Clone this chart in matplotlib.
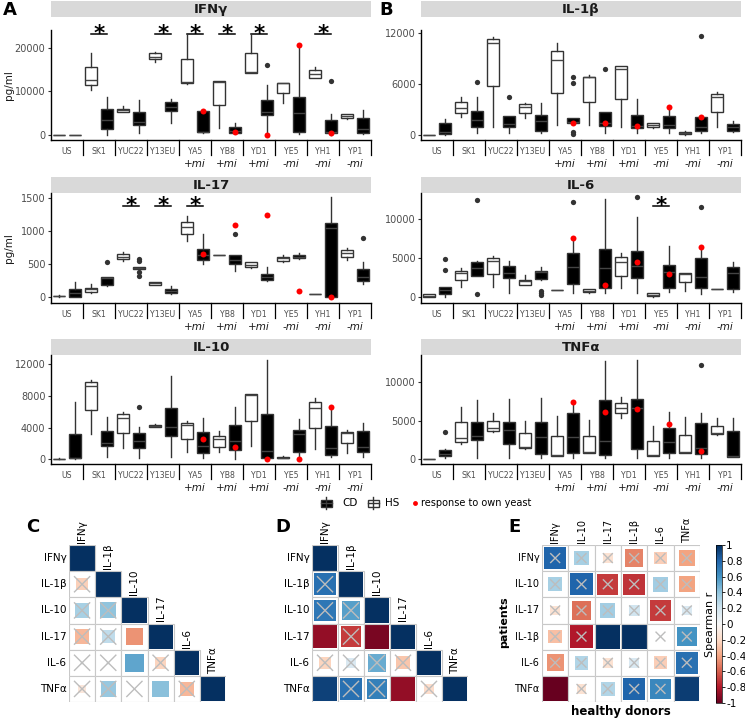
import matplotlib
matplotlib.use('Agg')
import matplotlib.pyplot as plt
import numpy as np
from matplotlib.patches import Rectangle
from matplotlib.colors import Normalize
from matplotlib.cm import ScalarMappable

plt.rcParams['font.family'] = ['DejaVu Sans']

# ---------------- data ----------------
cats = ['US', 'SK1', 'YUC22', 'Y13EU', 'YA5', 'YB8', 'YD1', 'YE5', 'YH1', 'YP1']
mi_tags = ['', '', '', '', '+mi', '+mi', '+mi', '-mi', '-mi', '-mi']

# box stats per category: (whisker low, q1, median, q3, whisker high)
ifng_hs = [(0, 0, 0, 0, 0), (10300, 11400, 12600, 15600, 18700), (5200, 5300, 5700, 6000, 6600),
           (16600, 17500, 17900, 18800, 18900), (11700, 11900, 12200, 17400, 22900),
           (1700, 6800, 12200, 12400, 12400), (14300, 14300, 14400, 18700, 22900),
           (7400, 9500, 11900, 12000, 12000), (13100, 13100, 14000, 14900, 15600),
           (3700, 4000, 4300, 4700, 4700)]
ifng_cd = [(0, 0, 0, 0, 0), (0, 1400, 3400, 5900, 8600), (400, 2400, 3000, 5300, 8000),
           (2700, 5500, 6500, 7600, 8200), (500, 600, 700, 5400, 5500),
           (400, 500, 900, 1800, 2800), (0, 4500, 5200, 8100, 11500),
           (200, 600, 5100, 8800, 20400), (0, 400, 700, 3400, 4700),
           (150, 400, 1300, 3800, 5700)]
ifng_out = [(7, 16100), (9, 12400)]
ifng_own = [np.nan, np.nan, np.nan, np.nan, 5400, 600, 100, 20500, 400, np.nan]
ifng_stars = ['SK1', 'Y13EU', 'YA5', 'YB8', 'YD1', 'YH1']

il1b_hs = [(0, 0, 0, 0, 0), (2100, 2600, 3200, 3900, 4500), (1000, 5800, 10900, 11300, 11600),
           (2000, 2600, 3300, 3600, 3800), (1200, 5000, 8900, 9900, 10900),
           (1200, 3900, 6800, 6900, 7100), (1000, 4300, 7800, 8100, 8200),
           (800, 1000, 1200, 1400, 1400), (0, 100, 200, 400, 500),
           (1000, 2700, 4500, 4800, 5100)]
il1b_cd = [(0, 100, 400, 1400, 1900), (200, 900, 1800, 2800, 4500), (200, 900, 1300, 2200, 2200),
           (200, 500, 1700, 2400, 3800), (1400, 1400, 1500, 2000, 2000),
           (200, 1100, 1400, 2700, 2700), (200, 800, 1100, 2400, 4300),
           (200, 800, 1200, 2200, 3300), (200, 500, 900, 2100, 2100),
           (300, 500, 900, 1300, 1700)]
il1b_out = [(2, 6200), (3, 4500), (5, 6900), (5, 6100), (5, 300), (5, 100), (6, 7800), (9, 11700)]
il1b_own = [np.nan, np.nan, np.nan, np.nan, 1450, 1400, 1050, 3350, 2100, np.nan]
il1b_stars = []

il17_hs = [(10, 15, 20, 25, 30), (70, 85, 125, 145, 195), (555, 575, 615, 650, 680),
           (180, 182, 212, 235, 237), (860, 955, 1060, 1145, 1235),
           (635, 638, 640, 642, 645), (450, 460, 490, 530, 540),
           (530, 550, 590, 615, 640), (45, 48, 50, 52, 55),
           (570, 605, 665, 715, 750)]
il17_cd = [(0, 10, 60, 125, 235), (175, 185, 290, 305, 305), (415, 425, 450, 465, 465),
           (50, 60, 95, 120, 170), (505, 565, 640, 730, 955),
           (405, 505, 565, 640, 640), (245, 265, 315, 355, 455),
           (580, 590, 615, 640, 665), (0, 10, 1050, 1130, 1515),
           (195, 245, 305, 425, 540)]
il17_out = [(2, 530), (3, 575), (3, 545), (3, 390), (3, 320), (6, 955), (10, 895)]
il17_own = [np.nan, np.nan, np.nan, np.nan, 650, 1095, 1250, 100, 10, np.nan]
il17_stars = ['YUC22', 'Y13EU', 'YA5']

il6_hs = [(85, 100, 210, 380, 425), (1360, 2170, 3060, 3400, 3790), (1360, 2940, 4600, 4980, 5280),
          (1570, 1570, 2080, 2260, 2850), (900, 920, 940, 960, 980),
          (510, 640, 850, 1020, 1020), (1150, 2770, 4550, 5190, 5620),
          (85, 170, 300, 510, 600), (850, 1910, 2940, 3060, 3150),
          (1000, 1030, 1060, 1090, 1100)]
il6_cd = [(85, 425, 940, 1360, 1360), (2770, 2770, 3790, 4550, 4680), (510, 2510, 3060, 4040, 4680),
          (2210, 2340, 3190, 3360, 3910), (510, 1660, 3910, 5700, 7530),
          (510, 1230, 3700, 6130, 12550), (510, 2510, 4040, 5960, 10300),
          (640, 1230, 3280, 4130, 6550), (425, 1150, 2640, 5060, 6470),
          (640, 1060, 3150, 3830, 4470)]
il6_out = [(1, 3490), (1, 4890), (2, 12420), (2, 425), (4, 850), (4, 510), (4, 300),
           (5, 12130), (7, 12770), (9, 11570)]
il6_own = [np.nan, np.nan, np.nan, np.nan, 7530, 1570, 4550, 2980, 6470, np.nan]
il6_stars = ['YE5']

il10_hs = [(0, 50, 80, 100, 120), (3160, 6230, 9300, 9730, 10020), (1390, 3280, 5260, 5680, 5940),
           (4040, 4040, 4210, 4340, 4420), (970, 2570, 4340, 4550, 4840),
           (880, 1600, 2530, 2950, 3580), (1680, 4840, 8120, 8210, 8210),
           (126, 126, 210, 340, 420), (1300, 3920, 6530, 7200, 7790),
           (840, 2020, 3370, 3490, 3700)]
il10_cd = [(0, 126, 210, 3240, 7280), (250, 1730, 2100, 3580, 5390), (210, 1470, 2360, 3370, 4130),
           (250, 2950, 4040, 6440, 10520), (210, 840, 1680, 3410, 5180),
           (40, 1180, 2320, 4340, 6650), (0, 210, 1090, 5730, 12550),
           (340, 970, 3160, 3700, 5050), (250, 550, 1470, 4210, 6570),
           (250, 880, 1600, 3580, 4550)]
il10_out = [(3, 6570)]
il10_own = [np.nan, np.nan, np.nan, np.nan, 2570, 1520, 40, 80, 6570, np.nan]
il10_stars = []

tnfa_hs = [(0, 20, 40, 60, 80), (1990, 2300, 2730, 4810, 6840), (3510, 3680, 4030, 5020, 5980),
           (1300, 1430, 1650, 3380, 4980), (476, 476, 563, 3070, 5670),
           (866, 866, 1000, 3030, 5110), (5330, 5980, 6620, 7360, 8140),
           (476, 476, 563, 2420, 4370), (866, 866, 1000, 3160, 5460),
           (3160, 3250, 3460, 4370, 5330)]
tnfa_cd = [(216, 476, 693, 1210, 1340), (130, 2510, 3030, 4890, 7710), (130, 1950, 3810, 4890, 7840),
           (130, 693, 2860, 4810, 7920), (130, 780, 2860, 5980, 7490),
           (130, 563, 2420, 7710, 12770), (130, 1300, 6620, 7840, 12900),
           (130, 780, 2210, 4110, 6100), (130, 650, 1430, 4680, 5980),
           (260, 260, 430, 3720, 5330)]
tnfa_out = [(1, 3590), (9, 12250)]
tnfa_own = [np.nan, np.nan, np.nan, np.nan, 7490, 6100, 6540, 4550, 1080, np.nan]
tnfa_stars = []

# correlation matrices (lower triangles for C and D)
corr_labels = ['IFNγ', 'IL-1β', 'IL-10', 'IL-17', 'IL-6', 'TNFα']
corr_c = [[1.0],
          [-0.24, 1.0],
          [0.33, 0.40, 1.0],
          [-0.33, 0.25, -0.45, 1.0],
          [0.02, 0.02, 0.53, -0.22, 1.0],
          [-0.12, 0.38, 0.01, 0.42, -0.33, 1.0]]
sig_c = [[1], [0, 1], [0, 0, 1], [0, 0, 1, 1], [0, 0, 1, 0, 1], [0, 0, 0, 1, 0, 1]]
corr_d = [[1.0],
          [0.75, 1.0],
          [0.72, 0.55, 1.0],
          [-0.88, -0.70, -0.95, 1.0],
          [-0.22, 0.15, 0.50, -0.28, 1.0],
          [0.93, 0.75, 0.68, -0.88, -0.18, 1.0]]
sig_d = [[1], [0, 1], [0, 0, 1], [1, 0, 1, 1], [0, 0, 0, 0, 1], [1, 0, 0, 1, 0, 1]]

e_labels = ['IFNγ', 'IL-10', 'IL-17', 'IL-1β', 'IL-6', 'TNFα']
corr_e = [[0.80, 0.33, -0.15, -0.50, -0.25, -0.40],
          [0.33, 0.80, -0.70, -0.72, 0.35, -0.40],
          [-0.15, -0.55, 0.35, 0.20, -0.70, 0.15],
          [-0.30, -0.80, 1.0, 1.0, 0.02, 0.60],
          [-0.45, 0.30, -0.15, 0.15, -0.25, 0.75],
          [-1.0, -0.15, 0.30, 0.80, 0.65, 0.95]]
sig_e = [[0, 0, 0, 0, 0, 0],
         [0, 0, 0, 0, 0, 0],
         [0, 0, 0, 0, 0, 0],
         [0, 0, 1, 1, 0, 0],
         [0, 0, 0, 0, 0, 0],
         [1, 0, 0, 0, 0, 1]]

# ---------------- layout ----------------
W, H = 745, 718
fig = plt.figure(figsize=(W / 100, H / 100), dpi=100)
PT = 72 / 100  # points per pixel


def px_axes(x0, y0, x1, y1):
    return fig.add_axes([x0 / W, 1 - y1 / H, (x1 - x0) / W, (y1 - y0) / H])


ov = px_axes(0, 0, W, H)
ov.set_xlim(0, W)
ov.set_ylim(H, 0)
ov.axis('off')

GREY = '#333333'


def box_panel(box, title, strip, hs, cd, out, own, stars, ylim, yticks, star_y, ylabel):
    x0, y0, x1, y1 = box
    hpx = y1 - y0
    ax = px_axes(*box)
    pos = np.arange(1, 11)
    for stats5, off, fill in [(hs, -0.25, 'white'), (cd, 0.25, 'black')]:
        st = []
        for i, (lo, q1, md, q3, hi) in enumerate(stats5):
            fl = [v for (c, v) in out if c == i + 1] if fill == 'black' else []
            st.append(dict(whislo=lo, q1=q1, med=md, q3=q3, whishi=hi, fliers=fl))
        ax.bxp(st, positions=pos + off, widths=0.37, patch_artist=True, showcaps=False,
               manage_ticks=False,
               boxprops=dict(facecolor=fill, edgecolor=GREY, linewidth=1.0),
               medianprops=dict(color='#444444', linewidth=1.0),
               whiskerprops=dict(color=GREY, linewidth=1.0),
               flierprops=dict(marker='o', markerfacecolor=GREY, markeredgecolor='none',
                               markersize=3.8))
    ax.plot(pos + 0.25, own, 'o', color='red', markersize=4.3, markeredgecolor='none',
            zorder=5, clip_on=False)
    for s in stars:
        x = cats.index(s) + 1
        ax.plot([x - 0.25, x + 0.25], [star_y, star_y], color='black', lw=1.1, clip_on=False)
        ax.annotate('*', (x, star_y), xytext=(0, -4.3), textcoords='offset points',
                    ha='center', va='baseline', fontsize=15.5, fontweight='bold',
                    annotation_clip=False)
    ax.set_xlim(0.5, 10.5)
    ax.set_ylim(*ylim)
    ax.set_yticks(yticks)
    ax.set_xticks([])
    ax.spines['top'].set_visible(False)
    ax.spines['right'].set_visible(False)
    for sp in ('left', 'bottom'):
        ax.spines[sp].set_linewidth(1.0)
        ax.spines[sp].set_color('black')
    ax.tick_params(axis='y', labelsize=7, labelcolor='#4D4D4D', color=GREY,
                   length=2.5, width=0.8, pad=1.5)
    ax.patch.set_alpha(0)
    tr = ax.get_xaxis_transform()
    for k in range(1, 11):
        ax.plot([k + 0.5, k + 0.5], [0, -15 / hpx], transform=tr, color='black',
                lw=0.9, clip_on=False)
    for k, (c, m) in enumerate(zip(cats, mi_tags)):
        ax.annotate(c, (k + 1, 0), xycoords=tr, xytext=(0, -11 * PT),
                    textcoords='offset points', ha='center', va='center',
                    fontsize=5.6, color='#4D4D4D', annotation_clip=False)
        if m:
            ax.annotate(m, (k + 1, 0), xycoords=tr, xytext=(0, -24 * PT),
                        textcoords='offset points', ha='center', va='center',
                        fontsize=7.5, style='italic', color='#1A1A1A',
                        annotation_clip=False)
    # strip
    sy0, sy1 = strip
    ov.add_patch(Rectangle((x0, sy0), x1 - x0, sy1 - sy0, facecolor='#D9D9D9',
                           edgecolor='none'))
    ov.text((x0 + x1) / 2, (sy0 + sy1) / 2 + 0.5, title, ha='center', va='center',
            fontsize=9.5, fontweight='bold', color='#1A1A1A')
    if ylabel:
        ov.text(9, (y0 + y1) / 2, 'pg/ml', rotation=90, ha='center', va='center',
                fontsize=7.5, color='#1A1A1A')
    return ax


box_panel((51, 30, 371, 140), 'IFNγ', (1, 17), ifng_hs, ifng_cd, ifng_out, ifng_own,
          ifng_stars, (-1145, 24030), [0, 10000, 20000], 23200, True)
box_panel((421, 30, 741, 140), 'IL-1β', (1, 17), il1b_hs, il1b_cd, il1b_out, il1b_own,
          il1b_stars, (-590, 12390), [0, 6000, 12000], 0, False)
box_panel((51, 192.7, 371, 303.3), 'IL-17', (177, 192.7), il17_hs, il17_cd, il17_out,
          il17_own, il17_stars, (-91, 1585), [0, 500, 1000, 1500], 1389, True)
box_panel((421, 192.7, 741, 303.3), 'IL-6', (177, 192.7), il6_hs, il6_cd, il6_out, il6_own,
          il6_stars, (-766, 13358), [0, 5000, 10000], 11700, False)
box_panel((51, 355, 371, 464), 'IL-10', (339, 355), il10_hs, il10_cd, il10_out, il10_own,
          il10_stars, (-594, 13175), [0, 4000, 8000, 12000], 0, False)
box_panel((421, 355, 741, 464), 'TNFα', (339, 355), tnfa_hs, tnfa_cd, tnfa_out, tnfa_own,
          tnfa_stars, (-610, 13546), [0, 5000, 10000], 0, False)

# legend
ly = 503


def key(xc, fill):
    ov.plot([xc, xc], [ly - 6, ly + 6], color=GREY, lw=1.0)
    ov.add_patch(Rectangle((xc - 5.5, ly - 3.5), 11, 7, facecolor=fill, edgecolor=GREY, lw=1.0))
    ov.plot([xc - 5.5, xc + 5.5], [ly, ly], color='#444444' if fill == 'black' else GREY, lw=1.0)


key(326, 'black')
ov.text(342, ly, 'CD', ha='left', va='center', fontsize=7.5)
key(373, 'white')
ov.text(385, ly, 'HS', ha='left', va='center', fontsize=7.5)
ov.plot([415], [ly], 'o', color='red', markersize=3.5, markeredgecolor='none')
ov.text(421, ly, 'response to own yeast', ha='left', va='center', fontsize=7)

# panel letters
for lt, (lx, lyy) in zip('ABCDE', [(3, 10), (379, 10), (26, 527), (275, 527), (508, 527)]):
    ov.text(lx, lyy, lt, ha='left', va='center', fontsize=13, fontweight='bold')

# ---------------- correlation panels ----------------
cmap = plt.get_cmap('RdBu')
norm = Normalize(-1, 1)


def corr_panel(box, mat, sig, rlabels, clabels, lower, xs, fs):
    ax = px_axes(*box)
    n = len(rlabels)
    ax.set_xlim(0, n)
    ax.set_ylim(n, 0)
    ax.axis('off')
    for i in range(n):
        for j in range(len(mat[i])):
            r = mat[i][j]
            ax.add_patch(Rectangle((j, i), 1, 1, facecolor='white', edgecolor='none'))
            s = np.sqrt(abs(r)) * 0.96
            ax.add_patch(Rectangle((j + 0.5 - s / 2, i + 0.5 - s / 2), s, s,
                                   facecolor=cmap(norm(r)), edgecolor='none'))
            if not sig[i][j]:
                cx, cy = j + 0.5, i + 0.5
                ax.plot([cx - xs, cx + xs], [cy - xs, cy + xs], color='#BDBDBD', lw=1.0)
                ax.plot([cx - xs, cx + xs], [cy + xs, cy - xs], color='#BDBDBD', lw=1.0)
            ax.add_patch(Rectangle((j, i), 1, 1, facecolor='none', edgecolor='#C8C8C8', lw=0.8))
    for i, lab in enumerate(rlabels):
        ax.text(-0.1, i + 0.5, lab, ha='right', va='center', fontsize=fs)
    for j, lab in enumerate(clabels):
        yb = j - 0.08 if lower else -0.08
        ax.text(j + 0.5, yb, lab, ha='center', va='bottom', rotation=90, fontsize=fs)
    return ax


corr_panel((69, 545, 226, 702), corr_c, sig_c, corr_labels, corr_labels, True, 0.29, 7.5)
corr_panel((312, 545, 468, 702), corr_d, sig_d, corr_labels, corr_labels, True, 0.29, 7.5)
corr_panel((542, 545, 700, 702), corr_e, sig_e, e_labels, e_labels, False, 0.17, 7.0)

ov.text(504, 622, 'patients', rotation=90, ha='center', va='center', fontsize=8,
        fontweight='bold')
ov.text(621, 711, 'healthy donors', ha='center', va='center', fontsize=8.5, fontweight='bold')

cax = px_axes(716, 545, 722, 703)
cb = fig.colorbar(ScalarMappable(norm=norm, cmap=cmap), cax=cax)
ticks = np.round(np.linspace(-1, 1, 11), 1)
cb.set_ticks(ticks)
cb.set_ticklabels([f'{t:g}' if t != 0 else '0' for t in ticks])
cax.tick_params(labelsize=7.5, length=2, width=0.6, pad=1)
cb.outline.set_linewidth(0.5)
cb.set_label('Spearman r', fontsize=8, labelpad=1)
cax.yaxis.set_label_position('left')

fig.savefig('out.png', dpi=100)
